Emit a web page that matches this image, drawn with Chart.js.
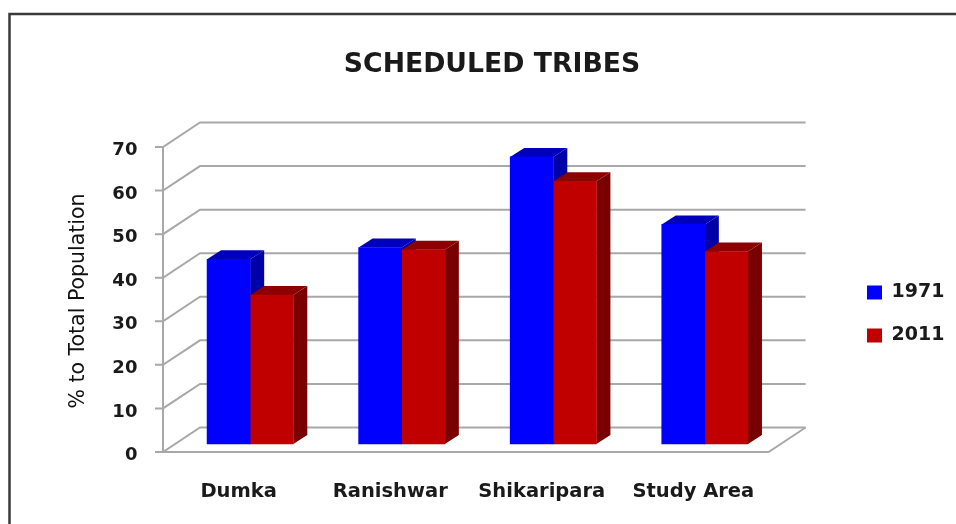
<!DOCTYPE html>
<html>
<head>
<meta charset="utf-8">
<style>
  html, body { margin: 0; padding: 0; background: #fff; }
  canvas { display: block; filter: blur(0.5px); }
</style>
</head>
<body>
<canvas id="chart" width="956" height="524"></canvas>
<script src="https://cdn.jsdelivr.net/npm/chart.js@4"></script>
<script>
const categories = ['Dumka', 'Ranishwar', 'Shikaripara', 'Study Area']
const values1971 = [42.4, 45.1, 65.9, 50.4]
const values2011 = [34.2, 44.6, 60.3, 44.2]

const gridColor = '#a8a8a8'
const blueFaces = { side: '#0000a8', top: '#0000bc' }
const redFaces = { side: '#780000', top: '#8c0000' }

// depth of the floor and of the bars
const wall = { dx: 37, dy: 24.5, shift: 11.4 }
const bar = { dx: 14, dy: 9 }

function face(ctx, pts, color) {
  ctx.fillStyle = color
  ctx.beginPath()
  pts.forEach(function (p, i) {
    if (i === 0) ctx.moveTo(p[0], p[1])
    else ctx.lineTo(p[0], p[1])
  })
  ctx.closePath()
  ctx.fill()
}

const frame3d = {
  id: 'frame3d',
  afterLayout(chart) {
    // legend sits far from the plot
    const legend = chart.legend
    legend.left = 843
    legend.right = 956
    legend.top += 52
    legend.bottom += 52
  },
  beforeDraw(chart) {
    const ctx = chart.ctx
    ctx.save()
    // outer frame
    ctx.strokeStyle = '#3a3a3a'
    ctx.lineWidth = 2.5
    ctx.beginPath()
    ctx.moveTo(9.5, 524)
    ctx.lineTo(9.5, 14)
    ctx.lineTo(956, 14)
    ctx.stroke()
    ctx.restore()
  },
  beforeDatasetsDraw(chart) {
    const ctx = chart.ctx
    const yFront = chart.scales.yFront
    const area = chart.chartArea
    const left = area.left - wall.shift
    const right = area.right - wall.shift - 0.6
    ctx.save()
    ctx.strokeStyle = gridColor
    ctx.lineWidth = 2
    yFront.ticks.forEach(function (t) {
      const y = yFront.getPixelForValue(t.value)
      ctx.beginPath()
      ctx.moveTo(left - 8, y)
      ctx.lineTo(left, y)
      ctx.lineTo(left + wall.dx, y - wall.dy)
      ctx.lineTo(right + wall.dx, y - wall.dy)
      ctx.stroke()
    })
    const y0 = yFront.getPixelForValue(0)
    const y70 = yFront.getPixelForValue(70)
    ctx.beginPath()
    ctx.moveTo(left, y70)
    ctx.lineTo(left, y0)
    ctx.lineTo(right, y0)
    ctx.lineTo(right + wall.dx, y0 - wall.dy)
    ctx.stroke()
    ctx.restore()

    // side and top faces, the library draws the fronts afterwards
    const faces = [blueFaces, redFaces]
    faces.forEach(function (f, d) {
      chart.getDatasetMeta(d).data.forEach(function (b) {
        const l = b.x - b.width / 2
        const r = b.x + b.width / 2
        face(ctx, [[r, b.y], [r + bar.dx, b.y - bar.dy], [r + bar.dx, b.base - bar.dy], [r, b.base]], f.side)
        face(ctx, [[l, b.y], [l + bar.dx, b.y - bar.dy], [r + bar.dx, b.y - bar.dy], [r, b.y]], f.top)
      })
    })
  },
  afterDraw(chart) {
    // axis title, centred lower than the scale's own title would be
    const ctx = chart.ctx
    ctx.save()
    ctx.translate(78.5, 301)
    ctx.rotate(-Math.PI / 2)
    ctx.textAlign = 'center'
    ctx.textBaseline = 'middle'
    ctx.fillStyle = '#111'
    ctx.font = '20.5px "DejaVu Sans"'
    ctx.fillText('% to Total Population', 0, 0)
    ctx.restore()
  },
}

new Chart(document.getElementById('chart'), {
  type: 'bar',
  data: {
    labels: categories,
    datasets: [
      { label: '1971', data: values1971, backgroundColor: '#0000ff', yAxisID: 'y' },
      { label: '2011', data: values2011, backgroundColor: '#c00000', yAxisID: 'y' },
    ],
  },
  plugins: [frame3d],
  options: {
    responsive: false,
    animation: false,
    layout: { padding: { left: 92, right: 64, top: 0, bottom: 0 } },
    datasets: { bar: { barPercentage: 1, categoryPercentage: 0.569, inflateAmount: 0.3 } },
    scales: {
      x: {
        grid: { display: false },
        border: { display: false },
        afterFit(scale) {
          scale.height = 72
        },
        ticks: {
          padding: 20,
          labelOffset: -11.5,
          color: '#1a1a1a',
          maxRotation: 0,
          font: { family: 'DejaVu Sans', size: 19.5, weight: 'bold' },
        },
      },
      // bars stand a bit behind the front plane
      y: { display: false, min: -1.84, max: 73.67 },
      yFront: {
        type: 'linear',
        axis: 'y',
        position: 'left',
        min: 0,
        max: 75.5,
        grid: { display: false },
        border: { display: false },
        afterFit(scale) {
          scale.width = 82.4
        },
        ticks: {
          stepSize: 10,
          includeBounds: false,
          padding: 29,
          labelOffset: 3.5,
          color: '#1a1a1a',
          font: { family: 'DejaVu Sans', size: 18, weight: 'bold' },
        },
      },
    },
    plugins: {
      title: {
        display: true,
        text: 'SCHEDULED TRIBES',
        color: '#1a1a1a',
        font: { family: 'DejaVu Sans', size: 26.7, weight: 'bold', lineHeight: 1.2 },
        padding: { top: 49, bottom: 42 },
      },
      legend: {
        position: 'right',
        labels: {
          boxWidth: 15,
          boxHeight: 14,
          padding: 24,
          color: '#1a1a1a',
          font: { family: 'DejaVu Sans', size: 19, weight: 'bold' },
        },
      },
      tooltip: { enabled: false },
    },
  },
})
</script>
</body>
</html>
